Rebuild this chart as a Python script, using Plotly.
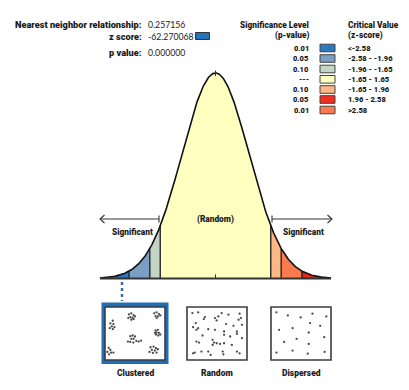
import numpy as np
import plotly.graph_objects as go

W, H = 409, 390

# ---------------- data ----------------
band_edges = [-3.45, -2.58, -1.96, -1.65, 1.65, 1.96, 2.58, 3.45]
band_colors = ["#2b79bf", "#7a9fc3", "#c5d5c5", "#ffffc0", "#fdb884", "#fc7a50", "#e8261a"]

stats_labels = ["Nearest neighbor relationship:", "z score:", "p value:"]
stats_values = ["0.257156", "-62.270068", "0.000000"]

p_levels = ["0.01", "0.05", "0.10", "---", "0.10", "0.05", "0.01"]
crit_values = ["<-2.58", "-2.58 - -1.96", "-1.96 - -1.65", "-1.65 - 1.65",
               "-1.65 - 1.96", "1.96 - 2.58", ">2.58"]
legend_colors = ["#2b79bf", "#7a9fc3", "#c5d5c5", "#ffffc0", "#fdb884", "#f52d1d", "#fc7a50"]

pattern_names = ["Clustered", "Random", "Dispersed"]

# point patterns (box-local coordinates, x 0..178 right, y 0..158 down)
clustered_x = [71, 78, 85, 75, 82, 89, 78, 69, 85,
               146, 153, 160, 150, 157, 164, 153,
               23, 16, 25, 20, 28, 14, 23,
               150, 157, 153, 160, 164, 151, 158, 148,
               75, 82, 89, 78, 85, 68, 75, 93, 100, 107, 84,
               11, 16, 7, 18, 25, 12,
               135, 144, 151, 139, 148, 157, 132, 142, 153]
clustered_y = [22, 19, 24, 30, 32, 28, 38, 33, 36,
               19, 16, 21, 27, 28, 25, 33,
               41, 49, 51, 58, 60, 63, 66,
               70, 68, 76, 77, 82, 82, 85, 77,
               87, 85, 88, 95, 95, 103, 104, 101, 103, 100, 106,
               122, 128, 134, 136, 136, 141,
               120, 118, 123, 128, 130, 126, 134, 137, 136]

random_x = [16, 33, 53, 50, 83, 93, 88, 103, 123, 156, 160, 153, 26, 18, 33, 28,
            63, 83, 116, 138, 163, 110, 110, 128, 148, 148, 46, 28, 36, 76, 80,
            88, 98, 110, 133, 76, 163, 18, 23, 43, 63, 70, 106, 108, 148, 156]
random_y = [18, 16, 30, 36, 33, 28, 40, 18, 23, 20, 33, 38, 48, 60, 63, 68,
            66, 68, 51, 56, 53, 73, 83, 88, 73, 80, 85, 103, 106, 98, 106,
            108, 110, 108, 113, 113, 93, 138, 136, 133, 133, 143, 133, 141, 133, 138]

dispersed_x = [16, 50, 88, 123, 164, 116, 146, 24, 64, 112, 158, 39, 76, 112, 16, 64, 109, 159]
dispersed_y = [16, 25, 31, 20, 28, 48, 56, 68, 63, 76, 90, 104, 95, 110, 136, 130, 139, 134]

# ---------------- geometry ----------------
CX, SCALE = 215.5, 33.5          # pixel of z=0, pixels per z unit
BASE, PEAK = 278.5, 73.0         # pixel rows of baseline and peak
HPX = BASE - PEAK


def PX(x):
    return x / W


def PY(y):
    return 1 - y / H


def pdf(z):
    return np.exp(-0.5 * np.asarray(z) ** 2)


fig = go.Figure()

# bands under the curve
for i in range(len(band_colors)):
    z0, z1 = band_edges[i], band_edges[i + 1]
    zs = np.linspace(z0, z1, 80)
    xs = np.concatenate([[z0], zs, [z1, z0]])
    ys = np.concatenate([[0], pdf(zs), [0, 0]])
    fig.add_trace(go.Scatter(x=xs, y=ys, fill="toself", fillcolor=band_colors[i],
                             mode="lines", line=dict(width=0), hoverinfo="skip",
                             showlegend=False))

# band dividers
dx, dy = [], []
for z in band_edges[1:-1]:
    dx += [z, z, None]
    dy += [0, float(pdf(z)), None]
fig.add_trace(go.Scatter(x=dx, y=dy, mode="lines", line=dict(color="#1a1a1a", width=1.3),
                         hoverinfo="skip", showlegend=False))

# curve outline
zc = np.linspace(band_edges[0], band_edges[-1], 400)
fig.add_trace(go.Scatter(x=zc, y=pdf(zc), mode="lines", line=dict(color="#111", width=1.6),
                         hoverinfo="skip", showlegend=False))

# baseline and center ticks
fig.add_trace(go.Scatter(x=[band_edges[0], band_edges[-1]], y=[0, 0], mode="lines",
                         line=dict(color="#333", width=2), hoverinfo="skip", showlegend=False))
fig.add_trace(go.Scatter(x=[0, 0, None, 0, 0], y=[0, 0.02, None, 0.985, 1.012], mode="lines",
                         line=dict(color="#333", width=1), hoverinfo="skip", showlegend=False))

# point pattern boxes as small subplots
box_px = [(105, 165), (187, 247), (271, 331)]
box_py = (307, 360)
pats = [(clustered_x, clustered_y), (random_x, random_y), (dispersed_x, dispersed_y)]
for k, ((bx0, bx1), (px_, py_)) in enumerate(zip(box_px, pats)):
    n = k + 2
    fig.add_trace(go.Scatter(x=px_, y=py_, mode="markers", xaxis=f"x{n}", yaxis=f"y{n}",
                             marker=dict(size=2.3, color="#4a4a4a"), hoverinfo="skip",
                             showlegend=False))
    fig.update_layout(**{
        f"xaxis{n}": dict(domain=[PX(bx0), PX(bx1)], range=[0, 178], visible=False,
                          anchor=f"y{n}", fixedrange=True),
        f"yaxis{n}": dict(domain=[PY(box_py[1]), PY(box_py[0])], range=[158, 0], visible=False,
                          anchor=f"x{n}", fixedrange=True),
    })

shapes = []
# highlighted clustered box
shapes.append(dict(type="rect", xref="paper", yref="paper", layer="below",
                   x0=PX(101.5), x1=PX(168.5), y0=PY(364), y1=PY(302.5),
                   fillcolor="#1f6fb8", line=dict(width=0)))
for (bx0, bx1) in box_px:
    shapes.append(dict(type="rect", xref="paper", yref="paper", layer="below",
                       x0=PX(bx0), x1=PX(bx1), y0=PY(box_py[1]), y1=PY(box_py[0]),
                       fillcolor="white", line=dict(color="#3c3c3c", width=1.6)))

# dotted connector
shapes.append(dict(type="line", xref="paper", yref="paper", x0=PX(122), x1=PX(122),
                   y0=PY(282), y1=PY(301), line=dict(color="#3f6b9c", width=2.5, dash="dot")))

# significance arrows
arr_y = 219
for (xa, xb, head_left) in [(100, 159, True), (272, 332, False)]:
    shapes.append(dict(type="line", xref="paper", yref="paper", x0=PX(xa), x1=PX(xb),
                       y0=PY(arr_y), y1=PY(arr_y), line=dict(color="#333", width=1.1)))
    bar_x = xb if head_left else xa
    tip_x = xa if head_left else xb
    back = 4.5 if head_left else -4.5
    shapes.append(dict(type="line", xref="paper", yref="paper", x0=PX(bar_x), x1=PX(bar_x),
                       y0=PY(arr_y - 3.5), y1=PY(arr_y + 3.5), line=dict(color="#333", width=1.1)))
    shapes.append(dict(type="path", xref="paper", yref="paper",
                       path=f"M {PX(tip_x + back)},{PY(arr_y - 4)} L {PX(tip_x)},{PY(arr_y)} "
                            f"L {PX(tip_x + back)},{PY(arr_y + 4)}",
                       line=dict(color="#333", width=1.1)))

# legend swatches
row_y = [48, 58.5, 69, 79.3, 89.5, 99.5, 110]
for c, ry in zip(legend_colors, row_y):
    shapes.append(dict(type="rect", xref="paper", yref="paper",
                       x0=PX(320), x1=PX(335), y0=PY(ry + 3.8), y1=PY(ry - 3.8),
                       fillcolor=c, line=dict(color="#444", width=1)))
# z score swatch
shapes.append(dict(type="rect", xref="paper", yref="paper",
                   x0=PX(195.5), x1=PX(209.5), y0=PY(39.5), y1=PY(32.5),
                   fillcolor="#2272bd", line=dict(color="#333", width=1)))

BOLD_FONT = "Roboto"
REG_FONT = "Lato"
TXT = "#1a1a1a"
ann = []


def add_text(x, y, s, anchor, size=9, bold=True):
    ann.append(dict(x=PX(x), y=PY(y), xref="paper", yref="paper", text=s,
                    showarrow=False, xanchor=anchor, yanchor="middle",
                    font=dict(family=BOLD_FONT if bold else REG_FONT, size=size, color=TXT,
                              weight=900 if bold else 400)))


stat_rows = [25, 36, 53]
for lab, val, ry in zip(stats_labels, stats_values, stat_rows):
    add_text(143.5, ry, lab, "right", size=9.2)
    add_text(145.5, ry, val, "left", size=8.7, bold=False)

add_text(310.5, 25, "Significance Level", "right", size=8.3)
add_text(310.5, 35, "(p-value)", "right", size=8.3)
add_text(345.5, 25, "Critical Value", "left", size=8.3)
add_text(345.5, 35, "(z-score)", "left", size=8.3)
for p, cv, ry in zip(p_levels, crit_values, row_y):
    add_text(310.5, ry, p, "right", size=7.5)
    add_text(345.5, ry, cv, "left", size=7.5)

add_text(132, 232, "Significant", "center", size=8.3)
add_text(303, 232, "Significant", "center", size=8.3)
add_text(215.5, 219, "(Random)", "center", size=8.3)

for name, (bx0, bx1) in zip(pattern_names, box_px):
    add_text((bx0 + bx1) / 2, 372.5, name, "center", size=8.5)

fig.update_layout(
    width=W, height=H, margin=dict(l=0, r=0, t=0, b=0),
    paper_bgcolor="white", plot_bgcolor="rgba(0,0,0,0)",
    xaxis=dict(domain=[0, 1], range=[(0 - CX) / SCALE, (W - CX) / SCALE], visible=False,
               fixedrange=True),
    yaxis=dict(domain=[0, 1], range=[(BASE - H) / HPX, BASE / HPX], visible=False,
               fixedrange=True),
    shapes=shapes, annotations=ann, showlegend=False,
)

fig.write_html("out.html", config={"displayModeBar": False},
               post_script="document.body.style.margin='0';document.body.style.overflow='hidden';")
